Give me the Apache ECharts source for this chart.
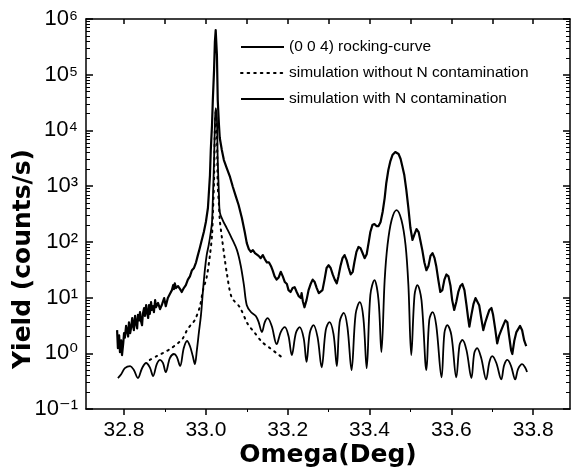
<!DOCTYPE html>
<html><head><meta charset="utf-8">
<script src="https://cdn.jsdelivr.net/npm/echarts@6/dist/echarts.min.js"></script>
<style>html,body{margin:0;padding:0;background:#fff}#c{width:574px;height:474px}</style>
</head><body><div id="c"></div>
<script>
// ---- data (Omega in degrees, yield in counts/s) ----
const rockingCurve = [
[32.783,2.6],[32.785,1.24],[32.788,2.1],[32.790,1.05],[32.793,1.7],[32.795,0.93],[32.798,1.5],[32.800,2.3],[32.802,1.9],[32.805,3.1],
[32.807,2.6],[32.810,2.0],[32.812,3.6],[32.815,2.3],[32.817,2.8],[32.820,4.3],[32.822,3.2],[32.824,2.6],[32.827,4.7],[32.829,3.6],
[32.832,2.8],[32.834,4.9],[32.837,3.9],[32.839,5.5],[32.841,3.9],[32.844,3.2],[32.846,5.1],[32.849,6.5],[32.851,4.7],[32.854,7.3],
[32.856,5.5],[32.859,4.3],[32.861,7.3],[32.863,5.1],[32.866,8.3],[32.868,6.0],[32.871,7.0],[32.873,5.5],[32.876,9.0],[32.878,6.7],
[32.883,8.0],[32.888,6.2],[32.893,7.6],[32.898,9.8],[32.902,7.0],[32.907,9.8],[32.912,11.6],[32.917,13.6],[32.920,16.7],[32.922,14.2],
[32.924,18],[32.927,14.8],[32.932,16.1],[32.937,14.2],[32.941,12.6],[32.946,14.8],[32.951,16.7],[32.956,21],[32.961,24],[32.966,31],
[32.971,34],[32.976,43],[32.980,56],[32.985,77],[32.990,108],[32.995,150],[33.000,227],[33.005,405],[33.007,692],[33.010,1580],
[33.012,4450],[33.015,12500],[33.017,35200],[33.020,121000],[33.022,387000],[33.024,635000],[33.027,226000],[33.029,35200],[33.032,12500],[33.034,7300],
[33.039,4450],[33.044,2940],[33.051,2110],[33.059,1460],[33.066,964],[33.073,664],[33.080,458],[33.088,268],[33.095,150],[33.100,95],
[33.105,74],[33.110,66],[33.115,71],[33.120,63],[33.124,66],[33.129,56],[33.134,51],[33.139,58],[33.144,49],[33.149,43],
[33.154,43],[33.159,37],[33.163,31],[33.168,24],[33.173,21],[33.178,23],[33.183,29],[33.188,24],[33.193,19],[33.198,17.5],
[33.202,13.6],[33.207,12.6],[33.212,14.8],[33.217,15.4],[33.222,12.6],[33.227,10.6],[33.232,9.8],[33.234,12.0],[33.237,8.6],[33.241,6.7],
[33.246,9.0],[33.251,13.6],[33.256,17.5],[33.261,21],[33.266,19],[33.271,14.8],[33.276,12.0],[33.280,12.6],[33.285,13.6],[33.290,21],
[33.295,34],[33.300,38],[33.305,34],[33.310,26],[33.315,21],[33.320,18],[33.324,24],[33.329,37],[33.334,51],[33.339,58],
[33.344,47],[33.349,34],[33.354,26],[33.359,29],[33.363,43],[33.368,66],[33.373,81],[33.378,77],[33.383,63],[33.388,51],
[33.393,60],[33.398,99],[33.402,150],[33.407,200],[33.412,209],[33.417,192],[33.422,192],[33.427,227],[33.432,343],[33.437,611],
[33.441,1140],[33.446,1950],[33.451,2820],[33.456,3610],[33.463,4090],[33.471,3770],[33.476,3070],[33.480,2300],[33.485,1580],[33.490,851],
[33.495,405],[33.500,177],[33.505,108],[33.510,138],[33.515,170],[33.520,150],[33.524,108],[33.529,71],[33.534,43],[33.539,31],
[33.544,37],[33.549,56],[33.554,63],[33.559,51],[33.563,37],[33.568,21],[33.573,12.6],[33.578,13.6],[33.583,21],[33.588,26],
[33.593,24],[33.598,16.1],[33.602,9.0],[33.607,6.0],[33.612,8.3],[33.617,12.6],[33.622,16.1],[33.627,17.5],[33.632,13.6],[33.637,7.3],
[33.641,4.3],[33.644,3.0],[33.649,4.9],[33.654,7.6],[33.659,9.8],[33.663,10.6],[33.668,7.3],[33.673,4.3],[33.678,2.6],[33.683,3.6],
[33.688,4.7],[33.693,6.0],[33.698,6.5],[33.702,4.9],[33.707,2.8],[33.712,1.5],[33.717,2.1],[33.722,2.6],[33.727,3.2],[33.732,3.9],
[33.737,3.6],[33.741,2.1],[33.746,1.14],[33.749,0.97],[33.754,1.7],[33.759,2.4],[33.763,2.6],[33.768,3.1],[33.773,2.6],[33.778,1.7],
[33.783,1.35]
];
const simWithoutN = [
[32.863,0.76],[32.880,0.89],[32.895,1.01],[32.912,1.19],[32.932,1.52],[32.944,1.87],[32.954,2.61],[32.963,3.21],[32.973,3.95],[32.985,6.75],
[32.993,13.6],[33.002,23.3],[33.010,58],[33.015,132],[33.017,303],[33.020,1285],[33.022,10200],[33.024,21400],[33.027,8270],[33.029,1047],
[33.032,458],[33.034,246],[33.039,122],[33.046,50],[33.051,28],[33.063,10.1],[33.083,6.7],[33.102,3.4],[33.120,2.3],[33.137,1.6],
[33.156,1.25],[33.173,1.0],[33.185,0.86]
];
const simWithN = [
[32.785,0.36],[32.793,0.42],[32.802,0.54],[32.815,0.59],[32.824,0.50],[32.834,0.36],[32.844,0.54],[32.854,0.67],[32.863,0.56],[32.871,0.39],
[32.880,0.64],[32.888,0.76],[32.895,0.67],[32.902,0.46],[32.912,0.82],[32.922,0.97],[32.929,0.86],[32.937,0.59],[32.946,1.24],[32.954,1.66],
[32.961,1.35],[32.968,0.89],[32.973,0.64],[32.978,1.14],[32.983,2.4],[32.988,4.85],[32.993,13.6],[32.998,33.9],[33.002,58],[33.007,88],
[33.012,150],[33.015,226],[33.017,562],[33.020,2940],[33.022,12500],[33.024,25000],[33.027,15400],[33.029,2940],[33.032,692],[33.034,343],
[33.041,246],[33.051,177],[33.063,117],[33.076,71],[33.085,38],[33.093,16.7],[33.100,7.3],[33.110,5.5],[33.122,4.66],[33.129,3.63],
[33.137,2.40],[33.144,3.63],[33.151,4.29],[33.161,3.08],[33.173,1.46],[33.183,2.40],[33.193,2.95],[33.202,2.04],[33.210,0.93],[33.220,2.31],
[33.229,2.95],[33.239,1.87],[33.246,0.70],[33.254,2.31],[33.263,3.21],[33.273,1.95],[33.283,0.56],[33.293,2.61],[33.302,3.63],[33.312,2.21],
[33.320,0.59],[33.327,3.63],[33.337,5.3],[33.346,2.95],[33.356,0.50],[33.366,5.06],[33.376,8.3],[33.385,4.29],[33.393,0.54],[33.402,11.1],
[33.412,20.6],[33.422,9.0],[33.429,1.05],[33.437,20.6],[33.444,88],[33.454,246],[33.466,372],[33.478,246],[33.488,88],[33.495,16.7],
[33.502,0.93],[33.510,11.1],[33.517,16.7],[33.527,9.0],[33.539,0.50],[33.546,3.95],[33.554,5.5],[33.563,3.21],[33.576,0.37],[33.583,2.31],
[33.590,3.21],[33.600,2.12],[33.612,0.37],[33.620,1.40],[33.627,1.73],[33.637,1.14],[33.649,0.36],[33.656,1.01],[33.663,1.24],[33.673,0.82],
[33.685,0.34],[33.693,0.70],[33.700,0.89],[33.710,0.67],[33.722,0.34],[33.729,0.61],[33.737,0.76],[33.746,0.59],[33.756,0.34],[33.763,0.52],
[33.773,0.64],[33.780,0.56],[33.785,0.46]
];
const seriesNames = ['(0 0 4) rocking-curve', 'simulation without N contamination', 'simulation with N contamination'];
const xTickLabels = ['32.8','33.0','33.2','33.4','33.6','33.8'];
const xMinorTicks = [32.9, 33.1, 33.3, 33.5, 33.7];
const yTickLabels = ['10\u207B\u00B9','10\u2070','10\u00B9','10\u00B2','10\u00B3','10\u2074','10\u2075','10\u2076'];
const xTitle = 'Omega(Deg)';
const yTitle = 'Yield (counts/s)';

// ---- axis helpers ----
const X_MIN = 32.707, X_MAX = 33.89;
const xMajor = xTickLabels.map(Number);
const xAllTicks = xMajor.concat(xMinorTicks).sort((a, b) => a - b);
const yMinorPos = [];
for (let d = -1; d < 6; d++) for (let k = 2; k <= 9; k++) yMinorPos.push(d + Math.log10(k));

const FONT = 'Liberation Sans, DejaVu Sans, sans-serif';
const black = '#000';
const lineAx = { show: true, onZero: false, lineStyle: { color: black, width: 1.5 } };
const noLine = { show: false, onZero: false };

const chart = echarts.init(document.getElementById('c'), null, { renderer: 'canvas' });
chart.setOption({
  animation: false,
  backgroundColor: '#fff',
  grid: { left: 86, right: 4, top: 19, bottom: 65, containLabel: false, outerBoundsMode: 'none' },
  legend: {
    orient: 'vertical', left: 240, top: 39, padding: 0, itemWidth: 43, itemHeight: 14, itemGap: 10,
    data: seriesNames,
    itemStyle: { opacity: 0, borderWidth: 0 },
    textStyle: { fontFamily: FONT, fontSize: 15.5, color: black }
  },
  xAxis: [
    { type: 'value', min: X_MIN, max: X_MAX, position: 'bottom',
      axisLine: lineAx,
      axisTick: { show: true, inside: false, length: 6, customValues: xMajor, lineStyle: { color: black, width: 1.5 } },
      axisLabel: { show: true, customValues: xMajor, formatter: v => v.toFixed(1), fontFamily: FONT, fontSize: 21, color: black, margin: 11 },
      splitLine: { show: false },
      name: xTitle, nameLocation: 'middle', nameGap: 34, nameMoveOverlap: false,
      nameTextStyle: { fontFamily: 'DejaVu Sans, sans-serif', fontWeight: 'bold', fontSize: 25, color: black } },
    { type: 'value', min: X_MIN, max: X_MAX, position: 'bottom', axisLine: noLine,
      axisTick: { show: true, inside: false, length: 3, customValues: xMinorTicks, lineStyle: { color: black, width: 1 } },
      axisLabel: { show: false }, splitLine: { show: false } },
    { type: 'value', min: X_MIN, max: X_MAX, position: 'top', axisLine: lineAx,
      axisTick: { show: true, inside: true, length: 5, customValues: xAllTicks, lineStyle: { color: black, width: 1.5 } },
      axisLabel: { show: false }, splitLine: { show: false } }
  ],
  yAxis: [
    { type: 'log', logBase: 10, min: 0.1, max: 1e6, position: 'left',
      axisLine: lineAx,
      axisTick: { show: true, inside: true, length: 7, lineStyle: { color: black, width: 1.5 } },
      axisLabel: { show: true, margin: 8, color: black, fontFamily: FONT, fontSize: 22,
        formatter: (v, i) => yTickLabels[i] },
      splitLine: { show: false },
      name: yTitle, nameLocation: 'middle', nameGap: 50, nameRotate: 90, nameMoveOverlap: false,
      nameTextStyle: { fontFamily: 'DejaVu Sans, sans-serif', fontWeight: 'bold', fontSize: 25, color: black, padding: [0, 90, 0, 0] } },
    { type: 'log', logBase: 10, min: 0.1, max: 1e6, position: 'right', axisLine: lineAx,
      axisTick: { show: true, inside: true, length: 7, lineStyle: { color: black, width: 1.5 } },
      axisLabel: { show: false }, splitLine: { show: false } },
    { type: 'value', min: -1, max: 6, position: 'left', axisLine: noLine,
      axisTick: { show: true, inside: true, length: 4, customValues: yMinorPos, lineStyle: { color: black, width: 1 } },
      axisLabel: { show: false }, splitLine: { show: false } },
    { type: 'value', min: -1, max: 6, position: 'right', axisLine: noLine,
      axisTick: { show: true, inside: true, length: 4, customValues: yMinorPos, lineStyle: { color: black, width: 1 } },
      axisLabel: { show: false }, splitLine: { show: false } }
  ],
  series: [
    { name: seriesNames[0], type: 'line', data: rockingCurve, xAxisIndex: 0, yAxisIndex: 0,
      symbol: 'none', showSymbol: false, smooth: false,
      lineStyle: { color: black, width: 2.2, join: 'round' }, itemStyle: { color: black }, z: 3 },
    { name: seriesNames[1], type: 'line', data: simWithoutN, xAxisIndex: 0, yAxisIndex: 0,
      symbol: 'none', showSymbol: false, smooth: 0.3,
      lineStyle: { color: black, width: 2, type: [1.6, 5], cap: 'round' }, itemStyle: { color: black }, z: 2 },
    { name: seriesNames[2], type: 'line', data: simWithN, xAxisIndex: 0, yAxisIndex: 0,
      symbol: 'none', showSymbol: false, smooth: 0.35,
      lineStyle: { color: black, width: 1.8, join: 'round' }, itemStyle: { color: black }, z: 2 }
  ]
});
</script>
</body></html>
